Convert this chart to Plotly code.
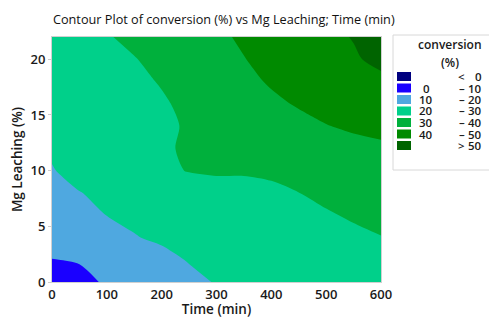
import plotly.graph_objects as go

# ---- data ----
time_min = [0, 50, 100, 150, 200, 250, 300, 350, 400, 450, 500, 550, 600]
mg_leach = [0, 2, 4, 6, 8, 10, 12, 14, 16, 18, 20, 22]
conv_y0 = [5.0, 8.8, 10.5, 13.1, 15.7, 18.3, 20.4, 21.5, 22.6, 23.7, 24.8, 25.9, 27.0]
conv_y2 = [9.9, 10.3, 12.9, 15.6, 18.2, 20.4, 21.5, 22.7, 23.9, 25.0, 26.2, 27.3, 28.5]
conv_y4 = [12.5, 14.9, 17.3, 19.7, 21.0, 22.1, 23.2, 24.3, 25.4, 26.5, 27.6, 28.7, 29.8]
conv_y6 = [16.0, 18.1, 20.07, 21.2, 22.4, 23.6, 24.8, 25.9, 27.1, 28.3, 29.4, 30.7, 32.0]
conv_y8 = [18.3, 19.85, 21.1, 22.4, 23.6, 24.9, 26.2, 27.4, 28.7, 29.95, 31.4, 32.8, 34.2]
conv_y10 = [19.7, 21.7, 23.8, 26.0, 28.2, 30.4, 31.2, 30.8, 31.1, 32.0, 33.3, 34.8, 36.5]
conv_y12 = [20.7, 22.8, 24.9, 26.9, 29.4, 30.6, 31.8, 33.0, 34.2, 35.4, 36.7, 38.2, 39.0]
conv_y14 = [22.0, 23.7, 25.4, 27.2, 28.9, 30.6, 32.5, 34.3, 36.1, 38.0, 39.8, 40.9, 41.6]
conv_y16 = [23.0, 24.6, 26.2, 27.7, 29.3, 31.4, 33.8, 36.3, 38.7, 40.6, 41.9, 43.2, 44.5]
conv_y18 = [24.0, 25.6, 27.1, 28.7, 30.4, 33.0, 35.7, 38.3, 40.7, 42.5, 44.3, 46.2, 48.0]
conv_y20 = [25.0, 26.6, 28.1, 29.7, 32.0, 34.6, 37.2, 39.8, 42.1, 44.4, 46.7, 49.0, 52.2]
conv_y22 = [26.0, 27.7, 29.5, 31.6, 34.0, 36.3, 38.7, 41.0, 43.4, 45.7, 48.0, 50.4, 53.0]
conversion = [conv_y0, conv_y2, conv_y4, conv_y6, conv_y8, conv_y10,
              conv_y12, conv_y14, conv_y16, conv_y18, conv_y20, conv_y22]

levels = [0, 10, 20, 30, 40, 50]
band_colors = ["#00007F", "#1A00FF", "#4FA8E0", "#00D08A", "#00B03C", "#008A00", "#006400"]
x_ticks = [0, 100, 200, 300, 400, 500, 600]
y_ticks = [0, 5, 10, 15, 20]

FONT = "Open Sans"
W, H = 489, 318
ML, MR, MT, MB = 52, 108, 37, 36

n = len(band_colors)
colorscale = [[i / (n - 1), c] for i, c in enumerate(band_colors)]

fig = go.Figure()
fig.add_trace(go.Contour(
    x=time_min, y=mg_leach, z=conversion,
    contours=dict(start=levels[0], end=levels[-1], size=levels[1] - levels[0],
                  coloring="fill", showlines=False),
    colorscale=colorscale, showscale=False, line=dict(width=0, smoothing=0.8),
    hoverinfo="skip",
))

axis_font = dict(family=FONT, size=13, color="#1a1a1a", weight=600)
fig.update_layout(
    width=W, height=H,
    margin=dict(l=ML, r=MR, t=MT, b=MB, autoexpand=False),
    paper_bgcolor="white", plot_bgcolor="white",
    showlegend=False,
    title=dict(text="Contour Plot of conversion (%) vs Mg Leaching; Time (min)",
               x=ML / W + 0.002, xanchor="left", y=1 - 20 / H, yanchor="middle",
               font=dict(family=FONT, size=12.7, color="#111", weight=500)),
    xaxis=dict(range=[0, 600], tickvals=x_ticks, ticks="", ticklen=0,
               tickfont=axis_font, showgrid=False, zeroline=False,
               showline=True, linecolor="#d0d0d0", mirror=True, automargin=False,
               title=dict(text="Time (min)", font=dict(family=FONT, size=13.5, color="#1a1a1a", weight=600),
                          standoff=0)),
    yaxis=dict(range=[0, 22], tickvals=y_ticks, ticks="outside", ticklen=3,
               tickcolor="#cccccc", tickfont=axis_font, showgrid=False, zeroline=False,
               showline=True, linecolor="#d0d0d0", mirror=True, automargin=False,
               title=dict(text="Mg Leaching (%)", font=dict(family=FONT, size=13.5, color="#1a1a1a", weight=600),
                          standoff=4)),
)

# ---- custom legend (pixel layout converted to paper coords) ----
pw = W - ML - MR
ph = H - MT - MB


def px(xp):
    return (xp - ML) / pw


def py(yp):
    return (H - MB - yp) / ph


shapes = [dict(type="rect", xref="paper", yref="paper",
               x0=px(393), x1=px(495), y0=py(170), y1=py(35),
               line=dict(color="#d8d8d8", width=1), fillcolor="white", layer="below")]
ann = [
    dict(text="conversion", x=px(450), y=py(45), xref="paper", yref="paper",
         showarrow=False, xanchor="center", yanchor="middle",
         font=dict(family=FONT, size=12, color="#1a1a1a", weight=600)),
    dict(text="(%)", x=px(450), y=py(62), xref="paper", yref="paper",
         showarrow=False, xanchor="center", yanchor="middle",
         font=dict(family=FONT, size=12, color="#1a1a1a", weight=600)),
]
lab_font = dict(family=FONT, size=11.5, color="#1a1a1a", weight=600)
row0, step = 76.5, 11.5
for i, c in enumerate(band_colors):
    yc = row0 + i * step
    shapes.append(dict(type="rect", xref="paper", yref="paper",
                       x0=px(397), x1=px(411), y0=py(yc + 4.5), y1=py(yc - 4.5),
                       line=dict(width=0), fillcolor=c))
    if i == 0:
        lo, sym, hi = "", "<", str(levels[0])
    elif i == n - 1:
        lo, sym, hi = "", ">", str(levels[-1])
    else:
        lo, sym, hi = str(levels[i - 1]), "–", str(levels[i])
    if lo:
        ann.append(dict(text=lo, x=px(426), y=py(yc), xref="paper", yref="paper",
                        showarrow=False, xanchor="center", yanchor="middle", font=lab_font))
    ann.append(dict(text=sym, x=px(462), y=py(yc), xref="paper", yref="paper",
                    showarrow=False, xanchor="center", yanchor="middle", font=lab_font))
    ann.append(dict(text=hi, x=px(484), y=py(yc), xref="paper", yref="paper",
                    showarrow=False, xanchor="right", yanchor="middle", font=lab_font))

fig.update_layout(shapes=shapes, annotations=ann)
fig.write_html("out.html", config={"displayModeBar": False},
               post_script="document.body.style.margin='0';document.body.style.padding='0';")
